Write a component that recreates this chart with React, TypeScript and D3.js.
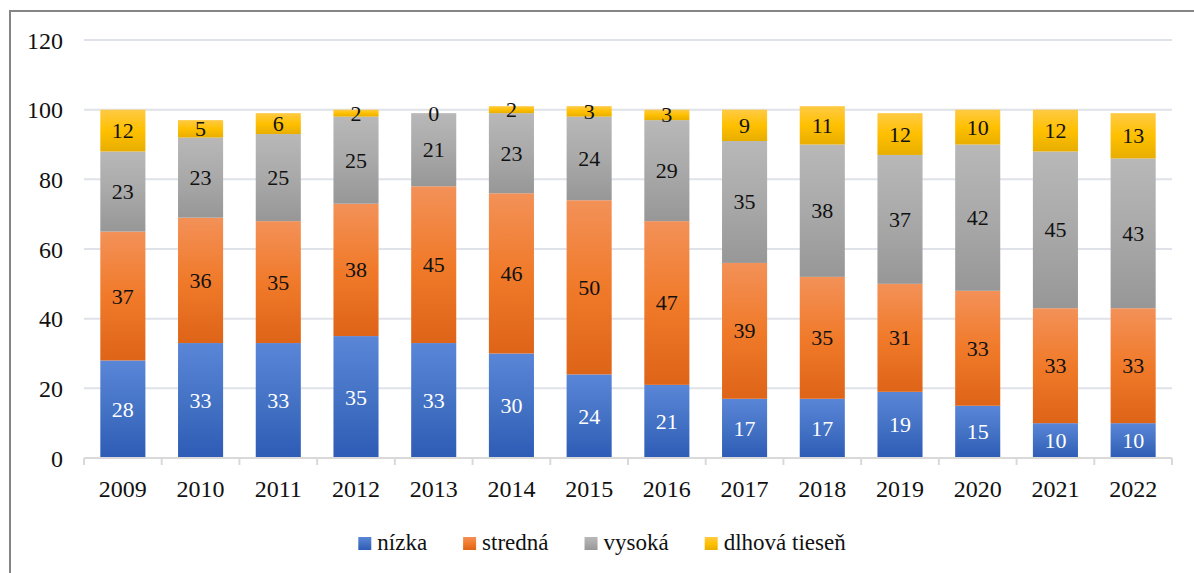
import React, { useEffect, useRef } from 'react';
import * as d3 from 'd3';

const years = ['2009', '2010', '2011', '2012', '2013', '2014', '2015', '2016', '2017', '2018', '2019', '2020', '2021', '2022'];
const nizka = [28, 33, 33, 35, 33, 30, 24, 21, 17, 17, 19, 15, 10, 10];
const stredna = [37, 36, 35, 38, 45, 46, 50, 47, 39, 35, 31, 33, 33, 33];
const vysoka = [23, 23, 25, 25, 21, 23, 24, 29, 35, 38, 37, 42, 45, 43];
const dlhova = [12, 5, 6, 2, 0, 2, 3, 3, 9, 11, 12, 10, 12, 13];
const seriesNames = ['nízka', 'stredná', 'vysoká', 'dlhová tieseň'];
const yTicks = [0, 20, 40, 60, 80, 100, 120];

const W = 1194;
const H = 573;
const FONT = 'Liberation Serif, Times New Roman, Tinos, DejaVu Serif, serif';

// gradient stops per series: top, middle, bottom
const grads = [
  ['#5a86d8', '#4472c4', '#2e5cb6'],
  ['#f39158', '#f07a2a', '#de6418'],
  ['#b8b8b8', '#a9a9a9', '#979797'],
  ['#ffca45', '#ffc000', '#e8ae00'],
];
const labelColors = ['#ffffff', '#111', '#111', '#111'];

const App = () => {
  const svgRef = useRef<SVGSVGElement>(null);

  useEffect(() => {
    document.body.style.margin = '0';
    const svg = d3.select(svgRef.current);
    svg.selectAll('*').remove();

    const margin = { left: 84, right: 22, top: 40, bottom: 115 };
    const x = d3.scaleBand().domain(years).range([margin.left, W - margin.right]).paddingInner(0.42).paddingOuter(0.21);
    const y = d3.scaleLinear().domain([0, 120]).range([H - margin.bottom, margin.top]);

    const defs = svg.append('defs');
    grads.forEach((g, i) => {
      const lg = defs.append('linearGradient').attr('id', `g${i}`).attr('x1', 0).attr('y1', 0).attr('x2', 0).attr('y2', 1);
      lg.append('stop').attr('offset', '0%').attr('stop-color', g[0]);
      lg.append('stop').attr('offset', '50%').attr('stop-color', g[1]);
      lg.append('stop').attr('offset', '100%').attr('stop-color', g[2]);
    });

    // outer frame (left and top only visible)
    svg.append('line').attr('x1', 10).attr('x2', 10).attr('y1', 10).attr('y2', H).attr('stroke', '#858585').attr('stroke-width', 2);
    svg.append('line').attr('x1', 10).attr('x2', W).attr('y1', 11).attr('y2', 11).attr('stroke', '#858585').attr('stroke-width', 2);

    // gridlines
    svg.append('g')
      .selectAll('line')
      .data(yTicks.filter(d => d > 0))
      .join('line')
      .attr('x1', margin.left)
      .attr('x2', W - margin.right)
      .attr('y1', d => y(d))
      .attr('y2', d => y(d))
      .attr('stroke', '#dfe2e8')
      .attr('stroke-width', 2);

    // y labels
    svg.append('g')
      .selectAll('text')
      .data(yTicks)
      .join('text')
      .attr('x', 63)
      .attr('y', d => y(d) + 8.5)
      .attr('text-anchor', 'end')
      .style('font-family', FONT)
      .attr('font-size', 24)
      .attr('fill', '#111')
      .text(d => d);

    // stacked bars
    const table = years.map((yr, i) => ({ year: yr, s0: nizka[i], s1: stredna[i], s2: vysoka[i], s3: dlhova[i] }));
    const stack = d3.stack<any>().keys(['s0', 's1', 's2', 's3'])(table);

    stack.forEach((layer, si) => {
      const g = svg.append('g');
      g.selectAll('rect')
        .data(layer)
        .join('rect')
        .attr('x', d => x(d.data.year)!)
        .attr('width', x.bandwidth())
        .attr('y', d => y(d[1]))
        .attr('height', d => y(d[0]) - y(d[1]))
        .attr('fill', `url(#g${si})`);
      g.selectAll('text')
        .data(layer)
        .join('text')
        .attr('x', d => x(d.data.year)! + x.bandwidth() / 2)
        .attr('y', d => y((d[0] + d[1]) / 2) + 7.5)
        .attr('text-anchor', 'middle')
        .style('font-family', FONT)
        .attr('font-size', 22)
        .attr('fill', labelColors[si])
        .text(d => d[1] - d[0]);
    });

    // x axis
    const ax = svg.append('g');
    ax.append('line').attr('x1', margin.left).attr('x2', W - margin.right).attr('y1', y(0)).attr('y2', y(0)).attr('stroke', '#d9d9d9').attr('stroke-width', 2);
    const step = x.step();
    const edges = d3.range(years.length + 1).map(i => margin.left + i * step);
    ax.selectAll('line.tick')
      .data(edges)
      .join('line')
      .attr('class', 'tick')
      .attr('x1', d => d)
      .attr('x2', d => d)
      .attr('y1', y(0))
      .attr('y2', y(0) + 7)
      .attr('stroke', '#d9d9d9')
      .attr('stroke-width', 2);
    ax.selectAll('text')
      .data(years)
      .join('text')
      .attr('x', d => x(d)! + x.bandwidth() / 2)
      .attr('y', 497)
      .attr('text-anchor', 'middle')
      .style('font-family', FONT)
      .attr('font-size', 24)
      .attr('fill', '#111')
      .text(d => d);

    // legend
    const leg = svg.append('g');
    const items = seriesNames.map((name, i) => {
      const it = leg.append('g');
      it.append('rect').attr('x', 0).attr('y', -13).attr('width', 13).attr('height', 13).attr('fill', `url(#g${i})`);
      const t = it.append('text').attr('x', 19).attr('y', 0).style('font-family', FONT).attr('font-size', 23).attr('fill', '#111').text(name);
      const w = 19 + (t.node() as SVGTextElement).getComputedTextLength();
      return { it, w };
    });
    const gap = 36;
    const total = d3.sum(items, d => d.w) + gap * (items.length - 1);
    let cx = 602 - total / 2;
    items.forEach(({ it, w }) => {
      it.attr('transform', `translate(${cx},550)`);
      cx += w + gap;
    });
  }, []);

  return <svg ref={svgRef} width={W} height={H} style={{ display: 'block', background: '#fff' }} />;
};

export default App;
